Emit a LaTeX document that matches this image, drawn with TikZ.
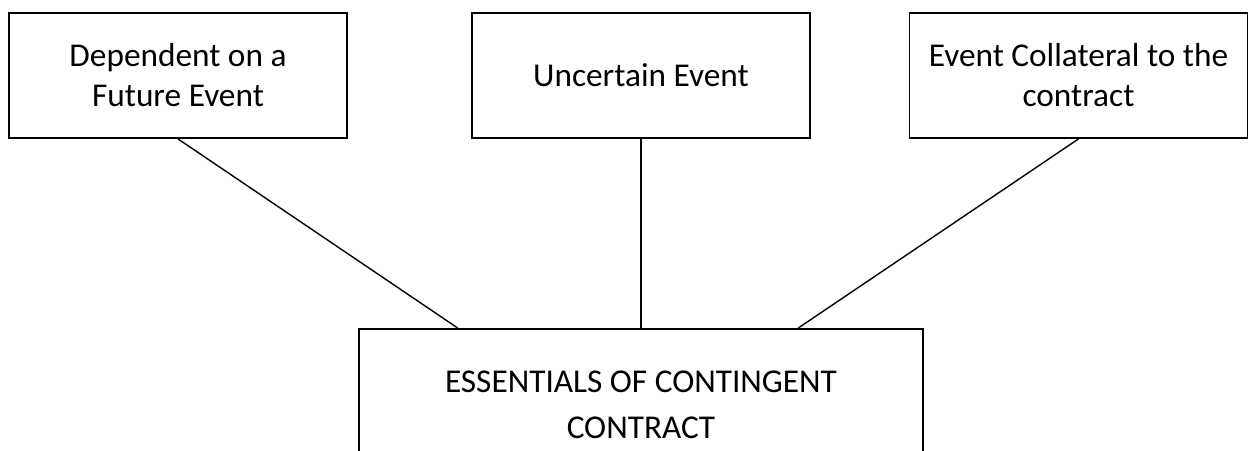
\documentclass[tikz,border=0pt]{standalone}
\usepackage{fontspec}
\setmainfont{Carlito}
\usetikzlibrary{calc}
\begin{document}
\begin{tikzpicture}[x=1pt,y=-1pt,
  topbox/.style={draw, line width=1.8pt, minimum width=338pt, minimum height=125pt,
    inner sep=0pt, align=center, font=\fontsize{33.3}{40}\selectfont},
  mainbox/.style={draw, line width=1.8pt, minimum width=564pt, minimum height=152pt,
    inner sep=0pt, align=center, font=\fontsize{33.3}{46}\selectfont},
  link/.style={draw, line width=1.4pt}]
\useasboundingbox (0,0) rectangle (1248,450);
\clip (0,0) rectangle (1248,450);
\fill[white] (0,0) rectangle (1248,450);

% the three characteristics
\node[topbox] (dep) at (178,75.5) {Dependent on a\\Future Event};
\node[topbox] (unc) at (641,75.5) {Uncertain Event};
\node[topbox] (col) at (1078.5,75.5) {Event Collateral to the\\contract};

% the central box, running past the lower edge
\node[mainbox, anchor=north] (ess) at (641,328) {ESSENTIALS OF CONTINGENT\\CONTRACT};

% where the connectors meet the central box
\coordinate (essL) at ($(ess.north west)!0.176!(ess.north east)$);
\coordinate (essR) at ($(ess.north west)!0.778!(ess.north east)$);

\draw[link] (dep.south) -- (essL);
\draw[link] (unc.south) -- (ess.north);
\draw[link] (col.south) -- (essR);
\end{tikzpicture}
\end{document}
